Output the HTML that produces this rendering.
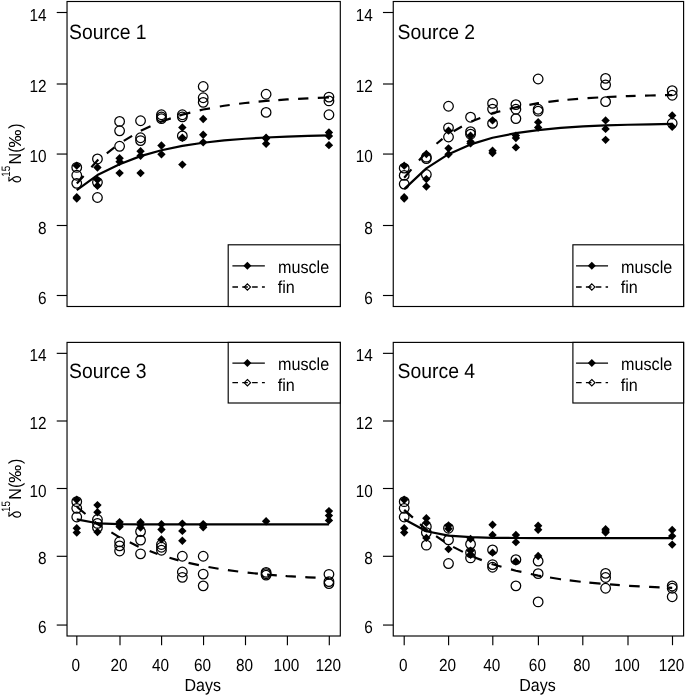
<!DOCTYPE html>
<html><head><meta charset="utf-8"><title>d15N turnover</title>
<style>html,body{margin:0;padding:0;background:#fff;}svg{display:block;}text{font-family:'Liberation Sans', sans-serif;fill:#000;text-rendering:geometricPrecision;}svg{filter:grayscale(1);}</style></head><body>
<svg width="685" height="696" viewBox="0 0 685 696">
<rect x="0" y="0" width="685" height="696" fill="#fff"/>
<g>
<polygon points="76.75,161.47 80.95,165.67 76.75,169.87 72.55,165.67" fill="#000"/>
<polygon points="76.75,192.96 80.95,197.16 76.75,201.36 72.55,197.16" fill="#000"/>
<polygon points="76.75,194.37 80.95,198.57 76.75,202.77 72.55,198.57" fill="#000"/>
<polygon points="97.45,163.24 101.65,167.44 97.45,171.64 93.25,167.44" fill="#000"/>
<polygon points="97.45,175.62 101.65,179.82 97.45,184.02 93.25,179.82" fill="#000"/>
<polygon points="97.45,181.64 101.65,185.84 97.45,190.04 93.25,185.84" fill="#000"/>
<polygon points="119.6,154.04 123.8,158.24 119.6,162.44 115.4,158.24" fill="#000"/>
<polygon points="119.6,157.58 123.8,161.78 119.6,165.98 115.4,161.78" fill="#000"/>
<polygon points="119.6,168.9 123.8,173.1 119.6,177.3 115.4,173.1" fill="#000"/>
<polygon points="140.55,146.97 144.75,151.17 140.55,155.37 136.35,151.17" fill="#000"/>
<polygon points="140.55,151.57 144.75,155.77 140.55,159.97 136.35,155.77" fill="#000"/>
<polygon points="140.55,168.9 144.75,173.1 140.55,177.3 136.35,173.1" fill="#000"/>
<polygon points="161.45,141.31 165.65,145.51 161.45,149.71 157.25,145.51" fill="#000"/>
<polygon points="161.45,150.15 165.65,154.35 161.45,158.55 157.25,154.35" fill="#000"/>
<polygon points="182.35,123.27 186.55,127.47 182.35,131.67 178.15,127.47" fill="#000"/>
<polygon points="182.35,133.53 186.55,137.73 182.35,141.93 178.15,137.73" fill="#000"/>
<polygon points="182.35,160.41 186.55,164.61 182.35,168.81 178.15,164.61" fill="#000"/>
<polygon points="203.2,114.78 207.4,118.98 203.2,123.18 199,118.98" fill="#000"/>
<polygon points="203.2,130.52 207.4,134.72 203.2,138.92 199,134.72" fill="#000"/>
<polygon points="203.2,138.13 207.4,142.33 203.2,146.53 199,142.33" fill="#000"/>
<polygon points="266.1,133.53 270.3,137.73 266.1,141.93 261.9,137.73" fill="#000"/>
<polygon points="266.1,134.24 270.3,138.44 266.1,142.63 261.9,138.44" fill="#000"/>
<polygon points="266.1,139.54 270.3,143.74 266.1,147.94 261.9,143.74" fill="#000"/>
<polygon points="328.95,128.22 333.15,132.42 328.95,136.62 324.75,132.42" fill="#000"/>
<polygon points="328.95,131.76 333.15,135.96 328.95,140.16 324.75,135.96" fill="#000"/>
<polygon points="328.95,140.96 333.15,145.16 328.95,149.36 324.75,145.16" fill="#000"/>
<circle cx="76.75" cy="167.44" r="4.8" fill="none" stroke="#000" stroke-width="1.25"/>
<circle cx="76.75" cy="175.22" r="4.8" fill="none" stroke="#000" stroke-width="1.25"/>
<circle cx="76.75" cy="183.36" r="4.8" fill="none" stroke="#000" stroke-width="1.25"/>
<circle cx="97.45" cy="158.95" r="4.8" fill="none" stroke="#000" stroke-width="1.25"/>
<circle cx="97.45" cy="182.3" r="4.8" fill="none" stroke="#000" stroke-width="1.25"/>
<circle cx="97.45" cy="197.51" r="4.8" fill="none" stroke="#000" stroke-width="1.25"/>
<circle cx="119.6" cy="121.45" r="4.8" fill="none" stroke="#000" stroke-width="1.25"/>
<circle cx="119.6" cy="130.79" r="4.8" fill="none" stroke="#000" stroke-width="1.25"/>
<circle cx="119.6" cy="146.29" r="4.8" fill="none" stroke="#000" stroke-width="1.25"/>
<circle cx="140.55" cy="120.75" r="4.8" fill="none" stroke="#000" stroke-width="1.25"/>
<circle cx="140.55" cy="137.73" r="4.8" fill="none" stroke="#000" stroke-width="1.25"/>
<circle cx="140.55" cy="140.56" r="4.8" fill="none" stroke="#000" stroke-width="1.25"/>
<circle cx="161.45" cy="114.73" r="4.8" fill="none" stroke="#000" stroke-width="1.25"/>
<circle cx="161.45" cy="116.86" r="4.8" fill="none" stroke="#000" stroke-width="1.25"/>
<circle cx="161.45" cy="118.62" r="4.8" fill="none" stroke="#000" stroke-width="1.25"/>
<circle cx="182.35" cy="114.73" r="4.8" fill="none" stroke="#000" stroke-width="1.25"/>
<circle cx="182.35" cy="116.86" r="4.8" fill="none" stroke="#000" stroke-width="1.25"/>
<circle cx="182.35" cy="135.96" r="4.8" fill="none" stroke="#000" stroke-width="1.25"/>
<circle cx="203.2" cy="86.5" r="4.8" fill="none" stroke="#000" stroke-width="1.25"/>
<circle cx="203.2" cy="97.75" r="4.8" fill="none" stroke="#000" stroke-width="1.25"/>
<circle cx="203.2" cy="102.35" r="4.8" fill="none" stroke="#000" stroke-width="1.25"/>
<circle cx="266.1" cy="94.22" r="4.8" fill="none" stroke="#000" stroke-width="1.25"/>
<circle cx="266.1" cy="112.4" r="4.8" fill="none" stroke="#000" stroke-width="1.25"/>
<circle cx="328.95" cy="97.05" r="4.8" fill="none" stroke="#000" stroke-width="1.25"/>
<circle cx="328.95" cy="100.94" r="4.8" fill="none" stroke="#000" stroke-width="1.25"/>
<circle cx="328.95" cy="114.73" r="4.8" fill="none" stroke="#000" stroke-width="1.25"/>
<polyline points="76.75,190.02 97.45,175.11 119.6,164.16 140.55,156.14 161.45,150.25 182.35,145.93 203.2,142.76 224.17,140.44 245.13,138.73 266.1,137.48 287.05,136.56 308,135.89 328.95,135.4" fill="none" stroke="#000" stroke-width="2.2" stroke-linecap="butt" stroke-linejoin="round"/>
<path d="M76.85,183.45L83.6,175.92 M91.4,167.21L97.45,160.46L98.4,159.73 M106.8,153.26L114.5,147.32 M123.75,140.9L132.1,135.87 M140.8,130.67L150.5,126.35 M159.9,122.16L161.45,121.47L170.8,118.4 M179.3,115.6L182.35,114.59L190.3,112.66 M199.7,110.37L203.2,109.51L210,108.3 M219.8,106.54L224.17,105.76L229.7,105.03 M239.1,103.78L245.13,102.99L249.4,102.57 M258.6,101.67L266.1,100.94L269.6,100.69 M278.3,100.06L287.05,99.43L288.7,99.34 M298.1,98.84L308,98.31L308.4,98.29 M317.8,97.92L328.95,97.48" fill="none" stroke="#000" stroke-width="2.2" stroke-linecap="butt" stroke-linejoin="round"/>
<rect x="67.03" y="1.5" width="273.27" height="305" fill="none" stroke="#000" stroke-width="1.15"/>
<line x1="56.73" y1="295.5" x2="67.03" y2="295.5" stroke="#000" stroke-width="1.15"/>
<text transform="translate(46.63,303.5) scale(0.96,1.09)" font-size="16" text-anchor="end">6</text>
<line x1="56.73" y1="225.5" x2="67.03" y2="225.5" stroke="#000" stroke-width="1.15"/>
<text transform="translate(46.63,233.5) scale(0.96,1.09)" font-size="16" text-anchor="end">8</text>
<line x1="56.73" y1="154.05" x2="67.03" y2="154.05" stroke="#000" stroke-width="1.15"/>
<text transform="translate(46.63,162.05) scale(0.96,1.09)" font-size="16" text-anchor="end">10</text>
<line x1="56.73" y1="84" x2="67.03" y2="84" stroke="#000" stroke-width="1.15"/>
<text transform="translate(46.63,92) scale(0.96,1.09)" font-size="16" text-anchor="end">12</text>
<line x1="56.73" y1="12.5" x2="67.03" y2="12.5" stroke="#000" stroke-width="1.15"/>
<text transform="translate(46.63,20.5) scale(0.96,1.09)" font-size="16" text-anchor="end">14</text>
<text transform="translate(21.1,183.11) rotate(-90) scale(0.84,1.09)" font-size="16">δ</text>
<text transform="translate(10.45,176.74) rotate(-90) scale(0.88,1.09)" font-size="11.2">15</text>
<text transform="translate(21.1,164.61) rotate(-90) scale(1,1.09)" font-size="16">N</text>
<text transform="translate(21.1,152.74) rotate(-90) scale(1,1.09)" font-size="16">(</text>
<text transform="translate(21.1,147.58) rotate(-90) scale(1.12,1.09)" font-size="16">‰</text>
<text transform="translate(21.1,128.69) rotate(-90) scale(1,1.09)" font-size="16">)</text>
<text transform="translate(69.03,38.9) scale(1.02,1.1)" font-size="19.0">Source 1</text>
<rect x="228.2" y="244.8" width="112.1" height="61.7" fill="#fff" stroke="#000" stroke-width="1.15"/>
<line x1="232.4" y1="265.8" x2="264.85" y2="265.8" stroke="#000" stroke-width="1.3"/>
<polygon points="247.4,261.8 251.4,265.8 247.4,269.8 243.4,265.8" fill="#000"/>
<line x1="232.4" y1="287" x2="264.85" y2="287" stroke="#000" stroke-width="1.3" stroke-dasharray="5.6 4.25"/>
<polygon points="247.4,283.8 250.6,287 247.4,290.2 244.2,287" fill="none" stroke="#000" stroke-width="1.1"/>
<text transform="translate(277.95,272.6) scale(1.01,1.09)" font-size="16">muscle</text>
<text transform="translate(277.65,293.2) scale(1.01,1.09)" font-size="16">fin</text>
</g>
<g>
<polygon points="404.2,161.47 408.4,165.67 404.2,169.87 400,165.67" fill="#000"/>
<polygon points="404.2,192.96 408.4,197.16 404.2,201.36 400,197.16" fill="#000"/>
<polygon points="404.2,194.37 408.4,198.57 404.2,202.77 400,198.57" fill="#000"/>
<polygon points="426.35,149.8 430.55,154 426.35,158.2 422.15,154" fill="#000"/>
<polygon points="426.35,174.92 430.55,179.12 426.35,183.32 422.15,179.12" fill="#000"/>
<polygon points="426.35,182.34 430.55,186.54 426.35,190.74 422.15,186.54" fill="#000"/>
<polygon points="448.5,126.45 452.7,130.65 448.5,134.85 444.3,130.65" fill="#000"/>
<polygon points="448.5,144.14 452.7,148.34 448.5,152.54 444.3,148.34" fill="#000"/>
<polygon points="448.5,150.15 452.7,154.35 448.5,158.55 444.3,154.35" fill="#000"/>
<polygon points="470.55,131.58 474.75,135.78 470.55,139.98 466.35,135.78" fill="#000"/>
<polygon points="470.55,137.42 474.75,141.62 470.55,145.82 466.35,141.62" fill="#000"/>
<polygon points="470.55,139.19 474.75,143.39 470.55,147.59 466.35,143.39" fill="#000"/>
<polygon points="492.55,116.19 496.75,120.39 492.55,124.59 488.35,120.39" fill="#000"/>
<polygon points="492.55,146.62 496.75,150.82 492.55,155.02 488.35,150.82" fill="#000"/>
<polygon points="492.55,148.74 496.75,152.94 492.55,157.14 488.35,152.94" fill="#000"/>
<polygon points="515.9,131.41 520.1,135.61 515.9,139.81 511.7,135.61" fill="#000"/>
<polygon points="515.9,133.88 520.1,138.08 515.9,142.28 511.7,138.08" fill="#000"/>
<polygon points="515.9,143.22 520.1,147.42 515.9,151.62 511.7,147.42" fill="#000"/>
<polygon points="538.15,117.96 542.35,122.16 538.15,126.36 533.95,122.16" fill="#000"/>
<polygon points="538.15,123.27 542.35,127.47 538.15,131.67 533.95,127.47" fill="#000"/>
<polygon points="605.6,116.19 609.8,120.39 605.6,124.59 601.4,120.39" fill="#000"/>
<polygon points="605.6,124.68 609.8,128.88 605.6,133.08 601.4,128.88" fill="#000"/>
<polygon points="605.6,135.65 609.8,139.85 605.6,144.05 601.4,139.85" fill="#000"/>
<polygon points="672.2,111.24 676.4,115.44 672.2,119.64 668,115.44" fill="#000"/>
<polygon points="672.2,122.56 676.4,126.76 672.2,130.96 668,126.76" fill="#000"/>
<circle cx="404.2" cy="168.15" r="4.8" fill="none" stroke="#000" stroke-width="1.25"/>
<circle cx="404.2" cy="175.4" r="4.8" fill="none" stroke="#000" stroke-width="1.25"/>
<circle cx="404.2" cy="184.07" r="4.8" fill="none" stroke="#000" stroke-width="1.25"/>
<circle cx="426.35" cy="157.18" r="4.8" fill="none" stroke="#000" stroke-width="1.25"/>
<circle cx="426.35" cy="158.6" r="4.8" fill="none" stroke="#000" stroke-width="1.25"/>
<circle cx="426.35" cy="174.52" r="4.8" fill="none" stroke="#000" stroke-width="1.25"/>
<circle cx="448.5" cy="106.24" r="4.8" fill="none" stroke="#000" stroke-width="1.25"/>
<circle cx="448.5" cy="127.82" r="4.8" fill="none" stroke="#000" stroke-width="1.25"/>
<circle cx="448.5" cy="137.02" r="4.8" fill="none" stroke="#000" stroke-width="1.25"/>
<circle cx="470.55" cy="117.21" r="4.8" fill="none" stroke="#000" stroke-width="1.25"/>
<circle cx="470.55" cy="131.71" r="4.8" fill="none" stroke="#000" stroke-width="1.25"/>
<circle cx="470.55" cy="134.19" r="4.8" fill="none" stroke="#000" stroke-width="1.25"/>
<circle cx="492.55" cy="103.41" r="4.8" fill="none" stroke="#000" stroke-width="1.25"/>
<circle cx="492.55" cy="109.07" r="4.8" fill="none" stroke="#000" stroke-width="1.25"/>
<circle cx="492.55" cy="123.4" r="4.8" fill="none" stroke="#000" stroke-width="1.25"/>
<circle cx="515.9" cy="104.62" r="4.8" fill="none" stroke="#000" stroke-width="1.25"/>
<circle cx="515.9" cy="109.22" r="4.8" fill="none" stroke="#000" stroke-width="1.25"/>
<circle cx="515.9" cy="118.62" r="4.8" fill="none" stroke="#000" stroke-width="1.25"/>
<circle cx="538.15" cy="79.01" r="4.8" fill="none" stroke="#000" stroke-width="1.25"/>
<circle cx="538.15" cy="109.22" r="4.8" fill="none" stroke="#000" stroke-width="1.25"/>
<circle cx="538.15" cy="111.2" r="4.8" fill="none" stroke="#000" stroke-width="1.25"/>
<circle cx="605.6" cy="78.4" r="4.8" fill="none" stroke="#000" stroke-width="1.25"/>
<circle cx="605.6" cy="84.81" r="4.8" fill="none" stroke="#000" stroke-width="1.25"/>
<circle cx="605.6" cy="101.64" r="4.8" fill="none" stroke="#000" stroke-width="1.25"/>
<circle cx="672.2" cy="90.68" r="4.8" fill="none" stroke="#000" stroke-width="1.25"/>
<circle cx="672.2" cy="95.28" r="4.8" fill="none" stroke="#000" stroke-width="1.25"/>
<circle cx="672.2" cy="123.22" r="4.8" fill="none" stroke="#000" stroke-width="1.25"/>
<polyline points="404.2,189.15 426.35,168.37 448.5,154.14 470.55,144.4 492.55,137.73 515.9,133.17 538.15,130.04 560.63,127.9 583.12,126.44 605.6,125.44 627.8,124.75 650,124.28 672.2,123.96" fill="none" stroke="#000" stroke-width="2.2" stroke-linecap="butt" stroke-linejoin="round"/>
<path d="M404.2,177.79L411.4,169.39 M419,160.52L426.35,151.94L426.4,151.9 M436.5,143.76L442.5,138.92 M453.6,131.22L461.9,126.57 M471.3,121.43L480.3,117.94 M490.6,113.94L492.55,113.18L500.3,111.22 M509.7,108.84L515.9,107.27L519.3,106.65 M529.4,104.8L538.15,103.19L539,103.08 M548.4,101.9L558.7,100.61 M567.45,99.77L578.1,98.85 M587.5,98.15L598.2,97.51 M606.6,97.02L616.5,96.61 M625.8,96.21L627.8,96.13L635.6,95.9 M645,95.63L650,95.49L655.7,95.37 M665,95.18L672.2,95.04" fill="none" stroke="#000" stroke-width="2.2" stroke-linecap="butt" stroke-linejoin="round"/>
<rect x="393.25" y="1.5" width="290.35" height="305" fill="none" stroke="#000" stroke-width="1.15"/>
<line x1="382.95" y1="295.5" x2="393.25" y2="295.5" stroke="#000" stroke-width="1.15"/>
<text transform="translate(372.85,303.5) scale(0.96,1.09)" font-size="16" text-anchor="end">6</text>
<line x1="382.95" y1="225.5" x2="393.25" y2="225.5" stroke="#000" stroke-width="1.15"/>
<text transform="translate(372.85,233.5) scale(0.96,1.09)" font-size="16" text-anchor="end">8</text>
<line x1="382.95" y1="154.05" x2="393.25" y2="154.05" stroke="#000" stroke-width="1.15"/>
<text transform="translate(372.85,162.05) scale(0.96,1.09)" font-size="16" text-anchor="end">10</text>
<line x1="382.95" y1="84" x2="393.25" y2="84" stroke="#000" stroke-width="1.15"/>
<text transform="translate(372.85,92) scale(0.96,1.09)" font-size="16" text-anchor="end">12</text>
<line x1="382.95" y1="12.5" x2="393.25" y2="12.5" stroke="#000" stroke-width="1.15"/>
<text transform="translate(372.85,20.5) scale(0.96,1.09)" font-size="16" text-anchor="end">14</text>
<text transform="translate(397.55,38.9) scale(1.02,1.1)" font-size="19.0">Source 2</text>
<rect x="572.9" y="244.8" width="110.7" height="61.7" fill="#fff" stroke="#000" stroke-width="1.15"/>
<line x1="576.05" y1="265.8" x2="608.05" y2="265.8" stroke="#000" stroke-width="1.3"/>
<polygon points="591.8,261.8 595.8,265.8 591.8,269.8 587.8,265.8" fill="#000"/>
<line x1="576.05" y1="287" x2="608.05" y2="287" stroke="#000" stroke-width="1.3" stroke-dasharray="5.6 4.25"/>
<polygon points="591.8,283.8 595,287 591.8,290.2 588.6,287" fill="none" stroke="#000" stroke-width="1.1"/>
<text transform="translate(621.05,272.6) scale(1.01,1.09)" font-size="16">muscle</text>
<text transform="translate(620.75,293.2) scale(1.01,1.09)" font-size="16">fin</text>
</g>
<g>
<polygon points="76.75,495.59 80.95,499.79 76.75,503.99 72.55,499.79" fill="#000"/>
<polygon points="76.75,524 80.95,528.2 76.75,532.4 72.55,528.2" fill="#000"/>
<polygon points="76.75,528.41 80.95,532.61 76.75,536.81 72.55,532.61" fill="#000"/>
<polygon points="97.45,500.89 101.65,505.09 97.45,509.29 93.25,505.09" fill="#000"/>
<polygon points="97.45,508.03 101.65,512.23 97.45,516.43 93.25,512.23" fill="#000"/>
<polygon points="97.45,527.73 101.65,531.93 97.45,536.13 93.25,531.93" fill="#000"/>
<polygon points="119.6,517.88 123.8,522.08 119.6,526.28 115.4,522.08" fill="#000"/>
<polygon points="119.6,520.6 123.8,524.8 119.6,529 115.4,524.8" fill="#000"/>
<polygon points="119.6,522.47 123.8,526.67 119.6,530.87 115.4,526.67" fill="#000"/>
<polygon points="140.55,518.08 144.75,522.28 140.55,526.48 136.35,522.28" fill="#000"/>
<polygon points="140.55,520.6 144.75,524.8 140.55,529 136.35,524.8" fill="#000"/>
<polygon points="140.55,523.32 144.75,527.52 140.55,531.72 136.35,527.52" fill="#000"/>
<polygon points="161.45,520.06 165.65,524.26 161.45,528.46 157.25,524.26" fill="#000"/>
<polygon points="161.45,525.36 165.65,529.56 161.45,533.76 157.25,529.56" fill="#000"/>
<polygon points="161.45,535.21 165.65,539.41 161.45,543.61 157.25,539.41" fill="#000"/>
<polygon points="182.35,519.41 186.55,523.61 182.35,527.81 178.15,523.61" fill="#000"/>
<polygon points="182.35,526.72 186.55,530.92 182.35,535.12 178.15,530.92" fill="#000"/>
<polygon points="182.35,536.57 186.55,540.77 182.35,544.97 178.15,540.77" fill="#000"/>
<polygon points="203.2,519.92 207.4,524.12 203.2,528.32 199,524.12" fill="#000"/>
<polygon points="203.2,521.28 207.4,525.48 203.2,529.68 199,525.48" fill="#000"/>
<polygon points="203.2,523.11 207.4,527.31 203.2,531.51 199,527.31" fill="#000"/>
<polygon points="266.1,517.03 270.3,521.23 266.1,525.43 261.9,521.23" fill="#000"/>
<polygon points="328.95,506.91 333.15,511.11 328.95,515.31 324.75,511.11" fill="#000"/>
<polygon points="328.95,511.42 333.15,515.62 328.95,519.82 324.75,515.62" fill="#000"/>
<polygon points="328.95,516.18 333.15,520.38 328.95,524.58 324.75,520.38" fill="#000"/>
<circle cx="76.75" cy="501.69" r="4.8" fill="none" stroke="#000" stroke-width="1.25"/>
<circle cx="76.75" cy="508.32" r="4.8" fill="none" stroke="#000" stroke-width="1.25"/>
<circle cx="76.75" cy="516.98" r="4.8" fill="none" stroke="#000" stroke-width="1.25"/>
<circle cx="97.45" cy="519.5" r="4.8" fill="none" stroke="#000" stroke-width="1.25"/>
<circle cx="97.45" cy="523.44" r="4.8" fill="none" stroke="#000" stroke-width="1.25"/>
<circle cx="97.45" cy="527.52" r="4.8" fill="none" stroke="#000" stroke-width="1.25"/>
<circle cx="119.6" cy="541.79" r="4.8" fill="none" stroke="#000" stroke-width="1.25"/>
<circle cx="119.6" cy="545.87" r="4.8" fill="none" stroke="#000" stroke-width="1.25"/>
<circle cx="119.6" cy="550.96" r="4.8" fill="none" stroke="#000" stroke-width="1.25"/>
<circle cx="140.55" cy="531.6" r="4.8" fill="none" stroke="#000" stroke-width="1.25"/>
<circle cx="140.55" cy="540.09" r="4.8" fill="none" stroke="#000" stroke-width="1.25"/>
<circle cx="140.55" cy="553.82" r="4.8" fill="none" stroke="#000" stroke-width="1.25"/>
<circle cx="161.45" cy="544.51" r="4.8" fill="none" stroke="#000" stroke-width="1.25"/>
<circle cx="161.45" cy="547.23" r="4.8" fill="none" stroke="#000" stroke-width="1.25"/>
<circle cx="161.45" cy="550.28" r="4.8" fill="none" stroke="#000" stroke-width="1.25"/>
<circle cx="182.35" cy="556.23" r="4.8" fill="none" stroke="#000" stroke-width="1.25"/>
<circle cx="182.35" cy="572.03" r="4.8" fill="none" stroke="#000" stroke-width="1.25"/>
<circle cx="182.35" cy="577.3" r="4.8" fill="none" stroke="#000" stroke-width="1.25"/>
<circle cx="203.2" cy="556.23" r="4.8" fill="none" stroke="#000" stroke-width="1.25"/>
<circle cx="203.2" cy="574.07" r="4.8" fill="none" stroke="#000" stroke-width="1.25"/>
<circle cx="203.2" cy="585.83" r="4.8" fill="none" stroke="#000" stroke-width="1.25"/>
<circle cx="266.1" cy="572.37" r="4.8" fill="none" stroke="#000" stroke-width="1.25"/>
<circle cx="266.1" cy="573.73" r="4.8" fill="none" stroke="#000" stroke-width="1.25"/>
<circle cx="266.1" cy="575.09" r="4.8" fill="none" stroke="#000" stroke-width="1.25"/>
<circle cx="328.95" cy="574.31" r="4.8" fill="none" stroke="#000" stroke-width="1.25"/>
<circle cx="328.95" cy="581.55" r="4.8" fill="none" stroke="#000" stroke-width="1.25"/>
<circle cx="328.95" cy="583.58" r="4.8" fill="none" stroke="#000" stroke-width="1.25"/>
<polyline points="76.75,519.32 97.45,523.29 119.6,524.18 140.55,524.38 161.45,524.43 182.35,524.44 203.2,524.44 224.17,524.44 245.13,524.44 266.1,524.44 287.05,524.44 308,524.44 328.95,524.44" fill="none" stroke="#000" stroke-width="2.2" stroke-linecap="butt" stroke-linejoin="round"/>
<path d="M76.85,506.74L85.5,514 M94.6,521.64L97.45,524.03L101.9,526.71 M111.4,532.43L119.6,537.37L119.7,537.41 M129.8,542.35L138.6,546.65 M149.65,551.03L157.5,553.98 M169.5,557.79L178.5,560.39 M188.55,562.88L198.9,565.18 M208.5,567.04L218.55,568.74 M227.9,570.18L238.2,571.52 M247.6,572.67L257.9,573.7 M267.1,574.6L276.8,575.35 M285.6,576.02L287.05,576.14L295.9,576.66 M305.3,577.21L308,577.37L315.6,577.72 M325,578.14L328.95,578.32" fill="none" stroke="#000" stroke-width="2.2" stroke-linecap="butt" stroke-linejoin="round"/>
<rect x="67.03" y="342.4" width="273.27" height="293.6" fill="none" stroke="#000" stroke-width="1.15"/>
<line x1="56.73" y1="625.05" x2="67.03" y2="625.05" stroke="#000" stroke-width="1.15"/>
<text transform="translate(46.63,633.05) scale(0.96,1.09)" font-size="16" text-anchor="end">6</text>
<line x1="56.73" y1="556.3" x2="67.03" y2="556.3" stroke="#000" stroke-width="1.15"/>
<text transform="translate(46.63,564.3) scale(0.96,1.09)" font-size="16" text-anchor="end">8</text>
<line x1="56.73" y1="488.5" x2="67.03" y2="488.5" stroke="#000" stroke-width="1.15"/>
<text transform="translate(46.63,496.5) scale(0.96,1.09)" font-size="16" text-anchor="end">10</text>
<line x1="56.73" y1="421" x2="67.03" y2="421" stroke="#000" stroke-width="1.15"/>
<text transform="translate(46.63,429) scale(0.96,1.09)" font-size="16" text-anchor="end">12</text>
<line x1="56.73" y1="353.35" x2="67.03" y2="353.35" stroke="#000" stroke-width="1.15"/>
<text transform="translate(46.63,361.35) scale(0.96,1.09)" font-size="16" text-anchor="end">14</text>
<line x1="76.82" y1="636" x2="76.82" y2="645.2" stroke="#000" stroke-width="1.15"/>
<text transform="translate(75.82,671) scale(0.96,1.09)" font-size="16" text-anchor="middle">0</text>
<line x1="120" y1="636" x2="120" y2="645.2" stroke="#000" stroke-width="1.15"/>
<text transform="translate(119,671) scale(0.96,1.09)" font-size="16" text-anchor="middle">20</text>
<line x1="161.59" y1="636" x2="161.59" y2="645.2" stroke="#000" stroke-width="1.15"/>
<text transform="translate(160.59,671) scale(0.96,1.09)" font-size="16" text-anchor="middle">40</text>
<line x1="203.55" y1="636" x2="203.55" y2="645.2" stroke="#000" stroke-width="1.15"/>
<text transform="translate(202.55,671) scale(0.96,1.09)" font-size="16" text-anchor="middle">60</text>
<line x1="245.5" y1="636" x2="245.5" y2="645.2" stroke="#000" stroke-width="1.15"/>
<text transform="translate(244.5,671) scale(0.96,1.09)" font-size="16" text-anchor="middle">80</text>
<line x1="287.4" y1="636" x2="287.4" y2="645.2" stroke="#000" stroke-width="1.15"/>
<text transform="translate(286.4,671) scale(0.96,1.09)" font-size="16" text-anchor="middle">100</text>
<line x1="329.3" y1="636" x2="329.3" y2="645.2" stroke="#000" stroke-width="1.15"/>
<text transform="translate(328.3,671) scale(0.96,1.09)" font-size="16" text-anchor="middle">120</text>
<text transform="translate(202.77,690.7) scale(1,1.09)" font-size="16" text-anchor="middle">Days</text>
<text transform="translate(21.1,518.31) rotate(-90) scale(0.84,1.09)" font-size="16">δ</text>
<text transform="translate(10.45,511.94) rotate(-90) scale(0.88,1.09)" font-size="11.2">15</text>
<text transform="translate(21.1,499.81) rotate(-90) scale(1,1.09)" font-size="16">N</text>
<text transform="translate(21.1,487.94) rotate(-90) scale(1,1.09)" font-size="16">(</text>
<text transform="translate(21.1,482.78) rotate(-90) scale(1.12,1.09)" font-size="16">‰</text>
<text transform="translate(21.1,463.89) rotate(-90) scale(1,1.09)" font-size="16">)</text>
<text transform="translate(69.03,378.1) scale(1.02,1.1)" font-size="19.0">Source 3</text>
<rect x="228.2" y="342.4" width="112.1" height="60.6" fill="#fff" stroke="#000" stroke-width="1.15"/>
<line x1="232.4" y1="363.1" x2="264.85" y2="363.1" stroke="#000" stroke-width="1.3"/>
<polygon points="247.4,359.1 251.4,363.1 247.4,367.1 243.4,363.1" fill="#000"/>
<line x1="232.4" y1="382.7" x2="264.85" y2="382.7" stroke="#000" stroke-width="1.3" stroke-dasharray="5.6 4.25"/>
<polygon points="247.4,379.5 250.6,382.7 247.4,385.9 244.2,382.7" fill="none" stroke="#000" stroke-width="1.1"/>
<text transform="translate(277.95,370.2) scale(1.01,1.09)" font-size="16">muscle</text>
<text transform="translate(277.65,390.8) scale(1.01,1.09)" font-size="16">fin</text>
</g>
<g>
<polygon points="404.2,495.59 408.4,499.79 404.2,503.99 400,499.79" fill="#000"/>
<polygon points="404.2,524 408.4,528.2 404.2,532.4 400,528.2" fill="#000"/>
<polygon points="404.2,528.41 408.4,532.61 404.2,536.81 400,532.61" fill="#000"/>
<polygon points="426.35,514.01 430.55,518.21 426.35,522.41 422.15,518.21" fill="#000"/>
<polygon points="426.35,518.56 430.55,522.76 426.35,526.96 422.15,522.76" fill="#000"/>
<polygon points="426.35,533.72 430.55,537.92 426.35,542.12 422.15,537.92" fill="#000"/>
<polygon points="448.5,521.28 452.7,525.48 448.5,529.68 444.3,525.48" fill="#000"/>
<polygon points="448.5,524.51 452.7,528.71 448.5,532.91 444.3,528.71" fill="#000"/>
<polygon points="448.5,544.89 452.7,549.09 448.5,553.29 444.3,549.09" fill="#000"/>
<polygon points="470.55,534.7 474.75,538.9 470.55,543.1 466.35,538.9" fill="#000"/>
<polygon points="470.55,546.53 474.75,550.73 470.55,554.93 466.35,550.73" fill="#000"/>
<polygon points="470.55,550.5 474.75,554.7 470.55,558.9 466.35,554.7" fill="#000"/>
<polygon points="492.55,520.6 496.75,524.8 492.55,529 488.35,524.8" fill="#000"/>
<polygon points="492.55,530.79 496.75,534.99 492.55,539.19 488.35,534.99" fill="#000"/>
<polygon points="492.55,548.46 496.75,552.66 492.55,556.86 488.35,552.66" fill="#000"/>
<polygon points="515.9,530.79 520.1,534.99 515.9,539.19 511.7,534.99" fill="#000"/>
<polygon points="515.9,537.93 520.1,542.13 515.9,546.33 511.7,542.13" fill="#000"/>
<polygon points="515.9,557.3 520.1,561.5 515.9,565.7 511.7,561.5" fill="#000"/>
<polygon points="538.15,521.62 542.35,525.82 538.15,530.02 533.95,525.82" fill="#000"/>
<polygon points="538.15,525.49 542.35,529.69 538.15,533.89 533.95,529.69" fill="#000"/>
<polygon points="538.15,551.86 542.35,556.06 538.15,560.26 533.95,556.06" fill="#000"/>
<polygon points="605.6,525.02 609.8,529.22 605.6,533.42 601.4,529.22" fill="#000"/>
<polygon points="605.6,526.72 609.8,530.92 605.6,535.12 601.4,530.92" fill="#000"/>
<polygon points="605.6,528.41 609.8,532.61 605.6,536.81 601.4,532.61" fill="#000"/>
<polygon points="672.2,525.8 676.4,530 672.2,534.2 668,530" fill="#000"/>
<polygon points="672.2,531.91 676.4,536.11 672.2,540.31 668,536.11" fill="#000"/>
<polygon points="672.2,540.38 676.4,544.58 672.2,548.78 668,544.58" fill="#000"/>
<circle cx="404.2" cy="501.69" r="4.8" fill="none" stroke="#000" stroke-width="1.25"/>
<circle cx="404.2" cy="508.32" r="4.8" fill="none" stroke="#000" stroke-width="1.25"/>
<circle cx="404.2" cy="516.98" r="4.8" fill="none" stroke="#000" stroke-width="1.25"/>
<circle cx="426.35" cy="526.7" r="4.8" fill="none" stroke="#000" stroke-width="1.25"/>
<circle cx="426.35" cy="532.61" r="4.8" fill="none" stroke="#000" stroke-width="1.25"/>
<circle cx="426.35" cy="545.19" r="4.8" fill="none" stroke="#000" stroke-width="1.25"/>
<circle cx="448.5" cy="528.2" r="4.8" fill="none" stroke="#000" stroke-width="1.25"/>
<circle cx="448.5" cy="539.92" r="4.8" fill="none" stroke="#000" stroke-width="1.25"/>
<circle cx="448.5" cy="563.54" r="4.8" fill="none" stroke="#000" stroke-width="1.25"/>
<circle cx="470.55" cy="544.17" r="4.8" fill="none" stroke="#000" stroke-width="1.25"/>
<circle cx="470.55" cy="552.66" r="4.8" fill="none" stroke="#000" stroke-width="1.25"/>
<circle cx="470.55" cy="557.93" r="4.8" fill="none" stroke="#000" stroke-width="1.25"/>
<circle cx="492.55" cy="549.94" r="4.8" fill="none" stroke="#000" stroke-width="1.25"/>
<circle cx="492.55" cy="564.56" r="4.8" fill="none" stroke="#000" stroke-width="1.25"/>
<circle cx="492.55" cy="567.27" r="4.8" fill="none" stroke="#000" stroke-width="1.25"/>
<circle cx="515.9" cy="559.63" r="4.8" fill="none" stroke="#000" stroke-width="1.25"/>
<circle cx="515.9" cy="585.83" r="4.8" fill="none" stroke="#000" stroke-width="1.25"/>
<circle cx="538.15" cy="561.16" r="4.8" fill="none" stroke="#000" stroke-width="1.25"/>
<circle cx="538.15" cy="573.63" r="4.8" fill="none" stroke="#000" stroke-width="1.25"/>
<circle cx="538.15" cy="601.93" r="4.8" fill="none" stroke="#000" stroke-width="1.25"/>
<circle cx="605.6" cy="573.39" r="4.8" fill="none" stroke="#000" stroke-width="1.25"/>
<circle cx="605.6" cy="577.47" r="4.8" fill="none" stroke="#000" stroke-width="1.25"/>
<circle cx="605.6" cy="588.24" r="4.8" fill="none" stroke="#000" stroke-width="1.25"/>
<circle cx="672.2" cy="585.96" r="4.8" fill="none" stroke="#000" stroke-width="1.25"/>
<circle cx="672.2" cy="588.24" r="4.8" fill="none" stroke="#000" stroke-width="1.25"/>
<circle cx="672.2" cy="596.73" r="4.8" fill="none" stroke="#000" stroke-width="1.25"/>
<polyline points="404.2,519.29 426.35,531.24 448.5,535.6 470.55,537.2 492.55,537.78 515.9,537.99 538.15,538.07 560.63,538.1 583.12,538.11 605.6,538.11 627.8,538.11 650,538.12 672.2,538.12" fill="none" stroke="#000" stroke-width="2.2" stroke-linecap="butt" stroke-linejoin="round"/>
<path d="M404.2,509.9L412.9,517.64 M420.1,524.06L426.35,529.62L427.9,530.66 M436.1,536.18L444.4,541.77 M453.1,546.87L462.9,551.88 M473.5,556.93L481.8,560.14 M491.6,563.93L492.55,564.3L501.5,566.76 M511,569.38L515.9,570.73L521.4,571.93 M530.8,573.99L538.15,575.59L541.1,576.07 M550,577.53L560.63,579.26L561,579.31 M569.7,580.38L580.7,581.74 M589.35,582.62L600.6,583.67 M610,584.45L619.8,585.15 M629.1,585.79L639.7,586.37 M649.1,586.87L650,586.92L659.6,587.31 M668.2,587.66L672.2,587.83" fill="none" stroke="#000" stroke-width="2.2" stroke-linecap="butt" stroke-linejoin="round"/>
<rect x="393.25" y="342.4" width="290.35" height="293.6" fill="none" stroke="#000" stroke-width="1.15"/>
<line x1="382.95" y1="625.05" x2="393.25" y2="625.05" stroke="#000" stroke-width="1.15"/>
<text transform="translate(372.85,633.05) scale(0.96,1.09)" font-size="16" text-anchor="end">6</text>
<line x1="382.95" y1="556.3" x2="393.25" y2="556.3" stroke="#000" stroke-width="1.15"/>
<text transform="translate(372.85,564.3) scale(0.96,1.09)" font-size="16" text-anchor="end">8</text>
<line x1="382.95" y1="488.5" x2="393.25" y2="488.5" stroke="#000" stroke-width="1.15"/>
<text transform="translate(372.85,496.5) scale(0.96,1.09)" font-size="16" text-anchor="end">10</text>
<line x1="382.95" y1="421" x2="393.25" y2="421" stroke="#000" stroke-width="1.15"/>
<text transform="translate(372.85,429) scale(0.96,1.09)" font-size="16" text-anchor="end">12</text>
<line x1="382.95" y1="353.35" x2="393.25" y2="353.35" stroke="#000" stroke-width="1.15"/>
<text transform="translate(372.85,361.35) scale(0.96,1.09)" font-size="16" text-anchor="end">14</text>
<line x1="404.2" y1="636" x2="404.2" y2="645.2" stroke="#000" stroke-width="1.15"/>
<text transform="translate(403.2,671) scale(0.96,1.09)" font-size="16" text-anchor="middle">0</text>
<line x1="448.6" y1="636" x2="448.6" y2="645.2" stroke="#000" stroke-width="1.15"/>
<text transform="translate(447.6,671) scale(0.96,1.09)" font-size="16" text-anchor="middle">20</text>
<line x1="492.8" y1="636" x2="492.8" y2="645.2" stroke="#000" stroke-width="1.15"/>
<text transform="translate(491.8,671) scale(0.96,1.09)" font-size="16" text-anchor="middle">40</text>
<line x1="538.4" y1="636" x2="538.4" y2="645.2" stroke="#000" stroke-width="1.15"/>
<text transform="translate(537.4,671) scale(0.96,1.09)" font-size="16" text-anchor="middle">60</text>
<line x1="582.8" y1="636" x2="582.8" y2="645.2" stroke="#000" stroke-width="1.15"/>
<text transform="translate(581.8,671) scale(0.96,1.09)" font-size="16" text-anchor="middle">80</text>
<line x1="628" y1="636" x2="628" y2="645.2" stroke="#000" stroke-width="1.15"/>
<text transform="translate(627,671) scale(0.96,1.09)" font-size="16" text-anchor="middle">100</text>
<line x1="672.5" y1="636" x2="672.5" y2="645.2" stroke="#000" stroke-width="1.15"/>
<text transform="translate(671.5,671) scale(0.96,1.09)" font-size="16" text-anchor="middle">120</text>
<text transform="translate(537.52,690.7) scale(1,1.09)" font-size="16" text-anchor="middle">Days</text>
<text transform="translate(397.55,378.1) scale(1.02,1.1)" font-size="19.0">Source 4</text>
<rect x="572.9" y="342.4" width="110.7" height="60.6" fill="#fff" stroke="#000" stroke-width="1.15"/>
<line x1="576.05" y1="363.1" x2="608.05" y2="363.1" stroke="#000" stroke-width="1.3"/>
<polygon points="591.8,359.1 595.8,363.1 591.8,367.1 587.8,363.1" fill="#000"/>
<line x1="576.05" y1="382.7" x2="608.05" y2="382.7" stroke="#000" stroke-width="1.3" stroke-dasharray="5.6 4.25"/>
<polygon points="591.8,379.5 595,382.7 591.8,385.9 588.6,382.7" fill="none" stroke="#000" stroke-width="1.1"/>
<text transform="translate(621.05,370.2) scale(1.01,1.09)" font-size="16">muscle</text>
<text transform="translate(620.75,390.8) scale(1.01,1.09)" font-size="16">fin</text>
</g>
</svg></body></html>
